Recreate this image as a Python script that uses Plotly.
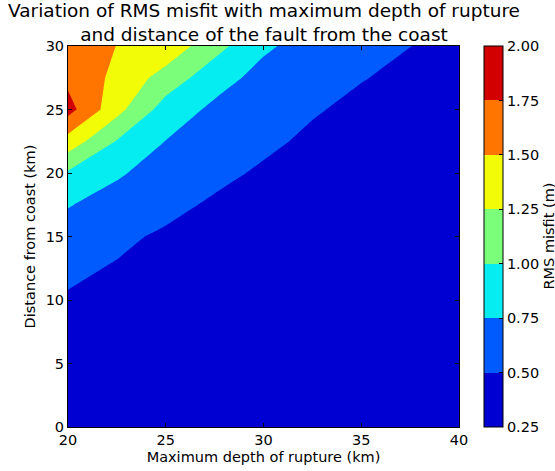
import plotly.graph_objects as go

# Maximum depth of rupture (km) - grid columns
depth_km = [20, 22.5, 25, 27.5, 30, 32.5, 35, 37.5, 40]
# Distance of fault from coast (km) - grid rows
distance_km = [0, 5, 10, 15, 17.5, 20, 22.5, 25, 27.5, 30]

# RMS misfit (m), one row per distance value
misfit_d0 = [0.30, 0.28, 0.27, 0.26, 0.25, 0.25, 0.25, 0.25, 0.25]
misfit_d5 = [0.38, 0.33, 0.31, 0.29, 0.28, 0.27, 0.26, 0.26, 0.25]
misfit_d10 = [0.47, 0.43, 0.38, 0.34, 0.31, 0.29, 0.28, 0.27, 0.26]
misfit_d15 = [0.657, 0.54, 0.47, 0.41, 0.37, 0.33, 0.31, 0.29, 0.27]
misfit_d17_5 = [0.762, 0.661, 0.558, 0.47, 0.42, 0.37, 0.34, 0.31, 0.28]
misfit_d20 = [0.969, 0.778, 0.652, 0.554, 0.47, 0.41, 0.37, 0.34, 0.30]
misfit_d22_5 = [1.398, 0.987, 0.746, 0.636, 0.545, 0.46, 0.41, 0.37, 0.33]
misfit_d25 = [1.84, 1.33, 0.89, 0.70, 0.62, 0.52, 0.45, 0.41, 0.36]
misfit_d27_5 = [1.69, 1.44, 1.15, 0.85, 0.67, 0.58, 0.51, 0.45, 0.41]
misfit_d30 = [1.54, 1.499, 1.42, 1.09, 0.79, 0.65, 0.56, 0.502, 0.46]

misfit = [misfit_d0, misfit_d5, misfit_d10, misfit_d15, misfit_d17_5,
          misfit_d20, misfit_d22_5, misfit_d25, misfit_d27_5, misfit_d30]

levels = [0.25, 0.50, 0.75, 1.00, 1.25, 1.50, 1.75, 2.00]
band_colors = ["#0000D2", "#005BFF", "#06EDF1", "#7BFF7B",
               "#F1FC06", "#FF7500", "#D20000"]

title_lines = ["Variation of RMS misfit with maximum depth of rupture",
               "and distance of the fault from the coast"]
colorbar_label = "RMS misfit (m)"

n = len(band_colors)
colorscale = []
for i, c in enumerate(band_colors):
    colorscale.append([i / n, c])
    colorscale.append([(i + 1) / n, c])

fig = go.Figure(go.Contour(
    x=depth_km,
    y=distance_km,
    z=misfit,
    zmin=levels[0],
    zmax=levels[-1],
    colorscale=colorscale,
    contours=dict(start=levels[0], end=levels[-1], size=0.25,
                  coloring="fill", showlines=False),
    line=dict(width=0, smoothing=0),
    colorbar=dict(
        thickness=19, len=1, lenmode="fraction", y=0.5, yanchor="middle",
        x=(484 - 68) / 391, xanchor="left", xpad=0, ypad=0,
        outlinecolor="black", outlinewidth=1,
        tickvals=levels, ticktext=["%.2f" % v for v in levels],
        ticks="inside", ticklen=4, tickcolor="black",
        tickfont=dict(size=14.5, color="black"),
    ),
))

axis_common = dict(
    showline=True, linecolor="black", linewidth=1, mirror="ticks",
    ticks="inside", ticklen=4, tickcolor="black",
    showgrid=False, zeroline=False,
    tickfont=dict(size=14.5, color="black"),
)

fig.update_layout(
    width=555, height=471,
    margin=dict(l=68, r=96, t=46, b=44, autoexpand=False),
    paper_bgcolor="white", plot_bgcolor="white",
    font=dict(family="DejaVu Sans", color="black"),
    xaxis=dict(range=[20, 40], tickvals=[20, 25, 30, 35, 40],
               title=dict(text="Maximum depth of rupture (km)",
                          font=dict(size=14.5), standoff=4),
               **axis_common),
    yaxis=dict(range=[0, 30], tickvals=[0, 5, 10, 15, 20, 25, 30],
               title=dict(text="Distance from coast (km)",
                          font=dict(size=14.5), standoff=6),
               **axis_common),
    annotations=[
        dict(text="<br>".join(title_lines),
             x=0.5, xref="paper", xanchor="center",
             y=1, yref="paper", yanchor="bottom", yshift=-1,
             showarrow=False, align="center",
             font=dict(size=18.5, color="black")),
        dict(text=colorbar_label, textangle=-90,
             x=(548 - 68) / 391, xref="paper", xanchor="center",
             y=0.5, yref="paper", yanchor="middle",
             showarrow=False,
             font=dict(size=14.5, color="black")),
    ],
)

fig.write_html("out.html")
